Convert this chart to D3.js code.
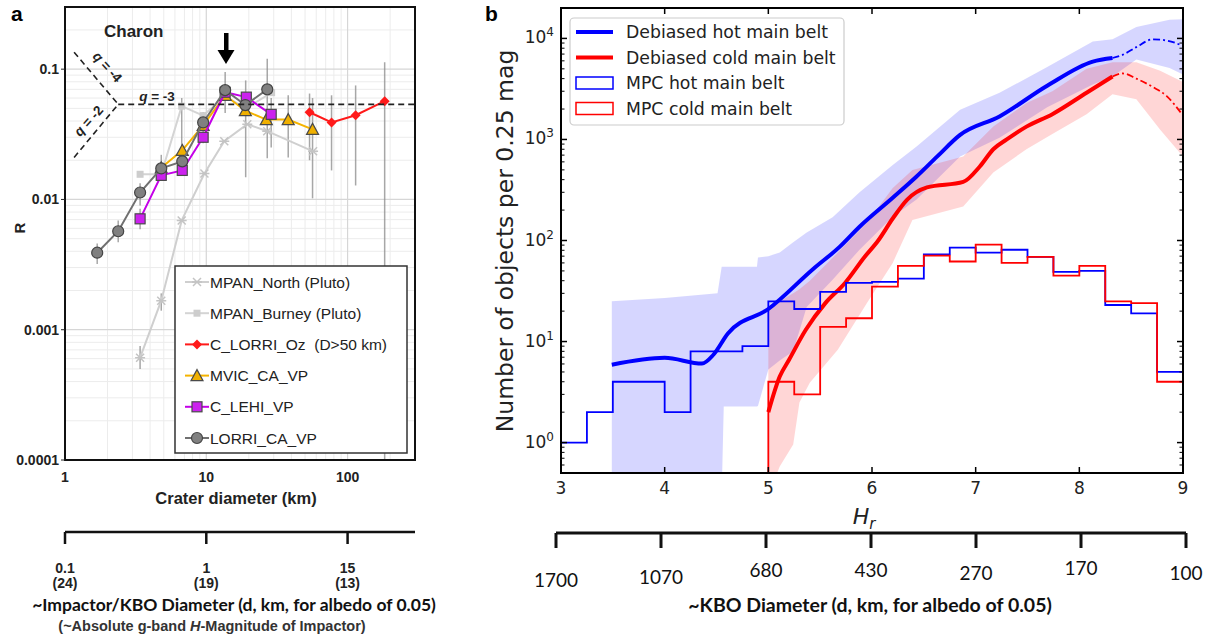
<!DOCTYPE html>
<html>
<head>
<meta charset="utf-8">
<script src="https://cdn.jsdelivr.net/npm/d3@7"></script>
<style>
  body { margin: 0; background: #fff; }
  svg { display: block; }
</style>
</head>
<body>
<div id="chart"></div>
<script>
// ---------- panel a data (Charon R-plot) ----------
var lorriD = [1.69, 2.38, 3.4, 4.8, 6.76, 9.5, 13.6, 18.9, 27];
var lorriR = [0.0039, 0.0057, 0.0113, 0.0173, 0.0196, 0.039, 0.069, 0.053, 0.07];
var lehiD = [3.4, 4.8, 6.76, 9.5, 13.6, 19.2, 28.8];
var lehiR = [0.0071, 0.0153, 0.0167, 0.030, 0.0665, 0.061, 0.045];
var mvicD = [4.8, 6.76, 9.5, 13.6, 18.9, 26.6, 38, 56.5];
var mvicR = [0.0175, 0.0238, 0.037, 0.063, 0.048, 0.041, 0.041, 0.0345];
var ozD = [53.8, 77, 114, 183];
var ozR = [0.0467, 0.039, 0.0443, 0.0568];
var northD = [3.4, 4.8, 6.7, 9.7, 13.4, 19.5, 27, 57];
var northR = [0.00061, 0.00167, 0.0069, 0.0158, 0.028, 0.0378, 0.0334, 0.0234];
var burneyD = [3.4, 4.8, 6.7, 9.5, 13.6, 19, 29];
var burneyR = [0.0156, 0.0156, 0.052, 0.044, 0.062, 0.05, 0.066];

var errD  = [1.69, 2.38, 3.4, 3.4, 3.4, 4.8, 4.8, 6.76, 6.7, 9.5, 13.6, 19, 27, 28.8, 38, 56.5, 53.8, 77, 114, 183];
var errLo = [0.0032, 0.0047, 0.009, 0.0059, 0.0005, 0.0148, 0.0014, 0.0153, 0.016, 0.027, 0.046, 0.0148, 0.0207, 0.025, 0.021, 0.0102, 0.02, 0.0167, 0.0128, 0.0001];
var errHi = [0.0046, 0.0069, 0.0133, 0.0085, 0.00075, 0.022, 0.0019, 0.021, 0.06, 0.047, 0.095, 0.082, 0.12, 0.06, 0.063, 0.06, 0.065, 0.063, 0.075, 0.113];

var aYTicks = [0.0001, 0.001, 0.01, 0.1];
var aYLabels = ["0.0001", "0.001", "0.01", "0.1"];
var aXTicks = [1, 10, 100];
var aXLabels = ["1", "10", "100"];
var impD = ["0.1", "1", "15"];
var impH = ["(24)", "(19)", "(13)"];

// ---------- panel b data (KBO H distribution) ----------
var hotH = [3.49, 4.0, 4.36, 4.47, 4.61, 5.0, 5.43, 5.69, 5.88, 6.2, 6.43, 6.63, 6.85, 7.23, 7.69, 8.13, 8.32];
var hotN = [5.9, 6.9, 6.05, 7.4, 12, 21, 52, 87, 137, 265, 430, 680, 1110, 1690, 3400, 5900, 6400];
var hotExtH = [8.32, 8.42, 8.55, 8.71, 8.85, 8.99];
var hotExtN = [6400, 6900, 8200, 9800, 9500, 8500];
var coldH = [5.0, 5.11, 5.2, 5.36, 5.55, 5.74, 5.93, 6.06, 6.2, 6.34, 6.53, 6.88, 7.04, 7.17, 7.3, 7.49, 7.74, 8.07, 8.32];
var coldN = [2, 4.5, 6.6, 13, 24, 38, 69, 100, 165, 254, 335, 380, 540, 800, 1000, 1340, 1780, 2900, 4200];
var coldExtH = [8.32, 8.42, 8.55, 8.71, 8.84, 8.99];
var coldExtN = [4200, 4500, 4000, 3300, 2700, 1780];

var hotBandH  = [3.49, 4.0, 4.51, 4.55, 4.57, 4.89, 4.9, 5.0, 5.11, 5.24, 5.37, 5.62, 5.88, 6.2, 6.43, 6.85, 7.23, 7.69, 8.13, 8.32, 8.55, 8.87, 9.0];
var hotBandLo = [0.3, 0.3, 0.3, 0.3, 2.27, 2.27, 2.3, 5.3, 6.5, 8, 22, 41, 81, 172, 254, 680, 1040, 2080, 3500, 4200, 6200, 5100, 4400];
var hotBandHi = [25, 27, 30, 55, 55, 55, 68, 70, 76, 96, 120, 170, 300, 560, 850, 1970, 2900, 5200, 9300, 9800, 13000, 15300, 15500];
var coldBandH  = [5.0, 5.11, 5.24, 5.3, 5.4, 5.67, 5.95, 6.2, 6.39, 6.88, 7.17, 7.49, 7.74, 8.07, 8.32, 8.55, 8.78, 9.0];
var coldBandLo = [0.3, 0.58, 0.96, 2.5, 3.9, 8.3, 24, 60, 160, 217, 470, 800, 1130, 1780, 2800, 2500, 1250, 680];
var coldBandHi = [22, 25, 30, 33, 40, 76, 150, 330, 500, 680, 1340, 2300, 3000, 5000, 5800, 5800, 4800, 3700];

var binStart = 3.0, binW = 0.25;
var mpcHot = [1, 2, 4, 4, 2, 8, 8, 9, 25, 21, 31, 38, 39, 42, 73, 85, 76, 81, 69, 49, 50, 23, 19, 5];
var mpcColdStart = 5.0;
var mpcCold = [4, 3, 14, 17, 35, 56, 71, 62, 91, 60, 69, 45, 56, 25, 24, 4];

var bXTicks = [3, 4, 5, 6, 7, 8, 9];
var bYTicks = [1, 10, 100, 1000, 10000];
var kboD = ["1700", "1070", "680", "430", "270", "170", "100"];
var kboDy = [580, 577, 570, 570, 573, 568, 573];

var svg = d3.select("#chart").append("svg").attr("width", 1215).attr("height", 639);

// ================= PANEL A =================
var xA = d3.scaleLog().domain([1, 300]).range([65, 415]);
var yA = d3.scaleLog().domain([0.0001, 0.3]).range([460, 7]);
var gA = svg.append("g");

gA.append("defs").append("clipPath").attr("id", "clipA")
  .append("rect").attr("x", 65).attr("y", 7).attr("width", 350).attr("height", 453);

// grid
var minorX = [], minorY = [];
[1, 10, 100].forEach(d => { for (var k = 2; k <= 9; k++) if (d * k < 300) minorX.push(d * k); });
[0.0001, 0.001, 0.01, 0.1].forEach(d => { for (var k = 2; k <= 9; k++) if (d * k < 0.3) minorY.push(d * k); });
gA.selectAll(".mgx").data(minorX).enter().append("line")
  .attr("x1", d => xA(d)).attr("x2", d => xA(d)).attr("y1", 7).attr("y2", 460)
  .attr("stroke", "#ececec").attr("stroke-width", 1);
gA.selectAll(".mgy").data(minorY).enter().append("line")
  .attr("y1", d => yA(d)).attr("y2", d => yA(d)).attr("x1", 65).attr("x2", 415)
  .attr("stroke", "#ececec").attr("stroke-width", 1);
gA.selectAll(".gx").data(aXTicks).enter().append("line")
  .attr("x1", d => xA(d)).attr("x2", d => xA(d)).attr("y1", 7).attr("y2", 460)
  .attr("stroke", "#d6d6d6").attr("stroke-width", 1.2);
gA.selectAll(".gy").data(aYTicks).enter().append("line")
  .attr("y1", d => yA(d)).attr("y2", d => yA(d)).attr("x1", 65).attr("x2", 415)
  .attr("stroke", "#d6d6d6").attr("stroke-width", 1.2);

var plotA = gA.append("g").attr("clip-path", "url(#clipA)");

// error bars
plotA.selectAll(".err").data(errD).enter().append("line")
  .attr("x1", d => xA(d)).attr("x2", d => xA(d))
  .attr("y1", (d, i) => yA(errLo[i])).attr("y2", (d, i) => yA(errHi[i]))
  .attr("stroke", "#8a8a8a").attr("stroke-opacity", 0.75).attr("stroke-width", 1.5);

var lineA = d3.line().x(d => xA(d[0])).y(d => yA(d[1]));
function zip(a, b) { return a.map((v, i) => [v, b[i]]); }

function marker(g, type, x, y, fill, stroke) {
  if (type === "circle") {
    g.append("circle").attr("cx", x).attr("cy", y).attr("r", 5.5).attr("fill", fill).attr("stroke", stroke).attr("stroke-width", 1.2);
  } else if (type === "square") {
    g.append("rect").attr("x", x - 5).attr("y", y - 5).attr("width", 10).attr("height", 10).attr("fill", fill).attr("stroke", stroke).attr("stroke-width", 1.2);
  } else if (type === "smallsq") {
    g.append("rect").attr("x", x - 3.5).attr("y", y - 3.5).attr("width", 7).attr("height", 7).attr("fill", fill);
  } else if (type === "triangle") {
    g.append("path").attr("d", `M${x},${y - 6}L${x + 6},${y + 5}L${x - 6},${y + 5}Z`).attr("fill", fill).attr("stroke", stroke).attr("stroke-width", 1.2);
  } else if (type === "diamond") {
    g.append("path").attr("d", `M${x},${y - 5}L${x + 5},${y}L${x},${y + 5}L${x - 5},${y}Z`).attr("fill", fill);
  } else if (type === "star") {
    g.append("path").attr("d", `M${x - 4},${y - 4}L${x + 4},${y + 4}M${x - 4},${y + 4}L${x + 4},${y - 4}M${x - 5},${y}L${x + 5},${y}`)
      .attr("stroke", fill).attr("stroke-width", 1.5);
  }
}

var seriesA = [
  { name: "MPAN_North (Pluto)", D: northD, R: northR, line: "#cfcfcf", type: "star", fill: "#c4c4c4", stroke: "none" },
  { name: "MPAN_Burney (Pluto)", D: burneyD, R: burneyR, line: "#d4d4d4", type: "smallsq", fill: "#cdcdcd", stroke: "none" },
  { name: "C_LORRI_Oz\u00a0\u00a0(D>50 km)", D: ozD, R: ozR, line: "#ff1a1a", type: "diamond", fill: "#ff1a1a", stroke: "none" },
  { name: "MVIC_CA_VP", D: mvicD, R: mvicR, line: "#f5b400", type: "triangle", fill: "#f0b000", stroke: "#4a4a4a" },
  { name: "C_LEHI_VP", D: lehiD, R: lehiR, line: "#c400e8", type: "square", fill: "#cc22ee", stroke: "#4a4a4a" },
  { name: "LORRI_CA_VP", D: lorriD, R: lorriR, line: "#707070", type: "circle", fill: "#808080", stroke: "#444" }
];
var drawOrder = [0, 1, 3, 4, 5, 2];
drawOrder.forEach(i => {
  var s = seriesA[i];
  var g = plotA.append("g");
  g.append("path").attr("d", lineA(zip(s.D, s.R))).attr("fill", "none")
    .attr("stroke", s.line).attr("stroke-width", 2);
  s.D.forEach((d, j) => marker(g, s.type, xA(d), yA(s.R[j]), s.fill, s.stroke));
});

// slope guide lines
var qDash = "6,4";
var q3R = 0.0537;
gA.append("line").attr("x1", xA(2.38)).attr("y1", yA(q3R)).attr("x2", 415).attr("y2", yA(q3R))
  .attr("stroke", "#222").attr("stroke-width", 1.6).attr("stroke-dasharray", qDash);
gA.append("line").attr("x1", xA(1.16)).attr("y1", yA(0.135)).attr("x2", xA(2.38)).attr("y2", yA(q3R))
  .attr("stroke", "#222").attr("stroke-width", 1.6).attr("stroke-dasharray", qDash);
gA.append("line").attr("x1", xA(1.16)).attr("y1", yA(0.021)).attr("x2", xA(2.38)).attr("y2", yA(q3R))
  .attr("stroke", "#222").attr("stroke-width", 1.6).attr("stroke-dasharray", qDash);

function qLabel(x, y, rot, val) {
  var t = gA.append("text").attr("transform", `translate(${x},${y}) rotate(${rot})`)
    .attr("text-anchor", "middle").attr("font-family", "Liberation Sans, Arial, sans-serif")
    .attr("font-size", 13.5).attr("font-weight", "bold").attr("fill", "#222");
  t.append("tspan").attr("font-style", "italic").text("q");
  t.append("tspan").text(" = " + val);
}
qLabel(104, 70, 48, "-4");
qLabel(92, 124, -48, "-2");
qLabel(157, 101, 0, "-3");

gA.append("text").attr("x", 104).attr("y", 37).attr("font-family", "Liberation Sans, Arial, sans-serif")
  .attr("font-size", 17).attr("font-weight", "bold").attr("fill", "#222").text("Charon");

// arrow
gA.append("rect").attr("x", 224).attr("y", 33).attr("width", 4.5).attr("height", 19).attr("fill", "#000");
gA.append("path").attr("d", "M217.5,50L234.5,50L226,64Z").attr("fill", "#000");

// legend a
var legA = gA.append("g");
legA.append("rect").attr("x", 175).attr("y", 266).attr("width", 232).attr("height", 187)
  .attr("fill", "#fff").attr("stroke", "#333").attr("stroke-width", 1.5);
seriesA.forEach((s, i) => {
  var y = 282 + i * 31.2;
  legA.append("line").attr("x1", 185).attr("x2", 209).attr("y1", y).attr("y2", y)
    .attr("stroke", s.line).attr("stroke-width", 2);
  marker(legA, s.type, 197, y, s.fill, s.stroke);
  legA.append("text").attr("x", 210).attr("y", y + 5.5).attr("font-family", "Liberation Sans, Arial, sans-serif")
    .attr("font-size", 15.5).attr("fill", "#222").text(s.name);
});

// frame a
gA.append("rect").attr("x", 65).attr("y", 7).attr("width", 350).attr("height", 453)
  .attr("fill", "none").attr("stroke", "#111").attr("stroke-width", 2);

// ticks a
gA.selectAll(".ytl").data(aYTicks).enter().append("text")
  .attr("x", 59).attr("y", d => yA(d) + 5).attr("text-anchor", "end")
  .attr("font-family", "Liberation Sans, Arial, sans-serif").attr("font-size", 14).attr("font-weight", "bold").attr("fill", "#222")
  .text((d, i) => aYLabels[i]);
gA.selectAll(".ytk").data(aYTicks).enter().append("line")
  .attr("x1", 61).attr("x2", 65).attr("y1", d => yA(d)).attr("y2", d => yA(d)).attr("stroke", "#222");
gA.selectAll(".xtl").data(aXTicks).enter().append("text")
  .attr("x", d => xA(d)).attr("y", 482).attr("text-anchor", "middle")
  .attr("font-family", "Liberation Sans, Arial, sans-serif").attr("font-size", 14).attr("font-weight", "bold").attr("fill", "#222")
  .text((d, i) => aXLabels[i]);
gA.append("text").attr("x", 236).attr("y", 504).attr("text-anchor", "middle")
  .attr("font-family", "Liberation Sans, Arial, sans-serif").attr("font-size", 16.5).attr("font-weight", "bold").attr("fill", "#222")
  .text("Crater diameter (km)");
gA.append("text").attr("transform", "translate(25,228) rotate(-90)").attr("text-anchor", "middle")
  .attr("font-family", "Liberation Sans, Arial, sans-serif").attr("font-size", 15).attr("font-weight", "bold").attr("fill", "#222")
  .text("R");

// impactor axis
gA.append("line").attr("x1", 65).attr("x2", 415).attr("y1", 532).attr("y2", 532).attr("stroke", "#111").attr("stroke-width", 2.5);
gA.selectAll(".itk").data(aXTicks).enter().append("line")
  .attr("x1", d => xA(d)).attr("x2", d => xA(d)).attr("y1", 532).attr("y2", 544)
  .attr("stroke", "#111").attr("stroke-width", 2.5);
gA.selectAll(".itl").data(aXTicks).enter().append("text")
  .attr("x", d => xA(d)).attr("y", 573).attr("text-anchor", "middle")
  .attr("font-family", "Liberation Sans, Arial, sans-serif").attr("font-size", 14).attr("font-weight", "bold").attr("fill", "#222")
  .text((d, i) => impD[i]);
gA.selectAll(".ith").data(aXTicks).enter().append("text")
  .attr("x", d => xA(d)).attr("y", 588).attr("text-anchor", "middle")
  .attr("font-family", "Liberation Sans, Arial, sans-serif").attr("font-size", 14).attr("font-weight", "bold").attr("fill", "#222")
  .text((d, i) => impH[i]);
gA.append("text").attr("x", 234).attr("y", 611).attr("text-anchor", "middle")
  .attr("font-family", "Lato, sans-serif").attr("font-size", 17.5).attr("font-weight", "bold").attr("fill", "#111")
  .text("~Impactor/KBO Diameter (d, km, for albedo of 0.05)");
var sub = gA.append("text").attr("x", 212).attr("y", 631).attr("text-anchor", "middle")
  .attr("font-family", "Liberation Sans, Arial, sans-serif").attr("font-size", 14.5).attr("font-weight", "bold").attr("fill", "#333");
sub.append("tspan").text("(~Absolute g-band ");
sub.append("tspan").attr("font-style", "italic").text("H");
sub.append("tspan").text("-Magnitude of Impactor)");

svg.append("text").attr("x", 11).attr("y", 21).attr("font-family", "Liberation Sans, Arial, sans-serif")
  .attr("font-size", 21).attr("font-weight", "bold").text("a");

// ================= PANEL B =================
var xB = d3.scaleLinear().domain([3, 9]).range([561, 1183]);
var yB = d3.scaleLog().domain([0.5, 20000]).range([473, 8]);
var gB = svg.append("g");
gB.append("defs").append("clipPath").attr("id", "clipB")
  .append("rect").attr("x", 561).attr("y", 8).attr("width", 622).attr("height", 465);
var plotB = gB.append("g").attr("clip-path", "url(#clipB)");

var area = d3.area().x(d => xB(d[0])).y0(d => yB(d[1])).y1(d => yB(d[2]));
plotB.append("path").attr("d", area(hotBandH.map((h, i) => [h, hotBandLo[i], hotBandHi[i]])))
  .attr("fill", "#0000ff").attr("fill-opacity", 0.16);
plotB.append("path").attr("d", area(coldBandH.map((h, i) => [h, coldBandLo[i], coldBandHi[i]])))
  .attr("fill", "#ff0000").attr("fill-opacity", 0.16);

var lineB = d3.line().curve(d3.curveMonotoneX).x(d => xB(d[0])).y(d => yB(d[1]));
plotB.append("path").attr("d", lineB(zip(hotH, hotN))).attr("fill", "none").attr("stroke", "#0000ff").attr("stroke-width", 4);
plotB.append("path").attr("d", lineB(zip(coldH, coldN))).attr("fill", "none").attr("stroke", "#ff0000").attr("stroke-width", 4);
plotB.append("path").attr("d", lineB(zip(hotExtH, hotExtN))).attr("fill", "none").attr("stroke", "#0000ff")
  .attr("stroke-width", 1.8).attr("stroke-dasharray", "7,3,2,3");
plotB.append("path").attr("d", lineB(zip(coldExtH, coldExtN))).attr("fill", "none").attr("stroke", "#ff0000")
  .attr("stroke-width", 1.8).attr("stroke-dasharray", "7,3,2,3");

// histograms
function histPts(start, vals, fromBottom) {
  var pts = [];
  if (fromBottom) pts.push([start, 0.3]);
  vals.forEach((v, i) => {
    pts.push([start + i * binW, v]);
    pts.push([start + (i + 1) * binW, v]);
  });
  return pts;
}
var lineH = d3.line().x(d => xB(d[0])).y(d => yB(d[1]));
plotB.append("path").attr("d", lineH(histPts(binStart, mpcHot, false))).attr("fill", "none")
  .attr("stroke", "#0000ff").attr("stroke-width", 1.8);
plotB.append("path").attr("d", lineH(histPts(mpcColdStart, mpcCold, true))).attr("fill", "none")
  .attr("stroke", "#ff0000").attr("stroke-width", 1.8);

// frame & ticks b
gB.append("rect").attr("x", 561).attr("y", 8).attr("width", 622).attr("height", 465)
  .attr("fill", "none").attr("stroke", "#000").attr("stroke-width", 2);
bXTicks.forEach(t => {
  gB.append("line").attr("x1", xB(t)).attr("x2", xB(t)).attr("y1", 473).attr("y2", 467).attr("stroke", "#000").attr("stroke-width", 1.5);
  gB.append("line").attr("x1", xB(t)).attr("x2", xB(t)).attr("y1", 8).attr("y2", 14).attr("stroke", "#000").attr("stroke-width", 1.5);
  gB.append("text").attr("x", xB(t)).attr("y", 494).attr("text-anchor", "middle")
    .attr("font-family", "DejaVu Sans, sans-serif").attr("font-size", 17).attr("fill", "#222").text(t);
});
var minorB = [];
[0.1, 1, 10, 100, 1000, 10000].forEach(d => { for (var k = 2; k <= 9; k++) { var v = d * k; if (v > 0.5 && v < 20000) minorB.push(v); } });
minorB.forEach(v => {
  [[561, 564.5], [1183, 1179.5]].forEach(p => gB.append("line").attr("x1", p[0]).attr("x2", p[1])
    .attr("y1", yB(v)).attr("y2", yB(v)).attr("stroke", "#000").attr("stroke-width", 1));
});
bYTicks.forEach((t, i) => {
  [[561, 567], [1183, 1177]].forEach(p => gB.append("line").attr("x1", p[0]).attr("x2", p[1])
    .attr("y1", yB(t)).attr("y2", yB(t)).attr("stroke", "#000").attr("stroke-width", 1.5));
  var tx = gB.append("text").attr("x", 554).attr("y", yB(t) + 5).attr("text-anchor", "end")
    .attr("font-family", "DejaVu Sans, sans-serif").attr("font-size", 17).attr("fill", "#222");
  tx.append("tspan").text("10");
  tx.append("tspan").attr("dy", -7).attr("font-size", 12).text(i);
});
gB.append("text").attr("transform", "translate(513,241) rotate(-90)").attr("text-anchor", "middle")
  .attr("font-family", "DejaVu Sans, sans-serif").attr("font-size", 23.5).attr("fill", "#222")
  .text("Number of objects per 0.25 mag");
var hr = gB.append("text").attr("x", 864).attr("y", 524).attr("text-anchor", "middle")
  .attr("font-family", "DejaVu Sans, sans-serif").attr("font-size", 22).attr("font-style", "italic").attr("fill", "#222");
hr.append("tspan").text("H");
hr.append("tspan").attr("dy", 5).attr("font-size", 15).text("r");

// legend b
var legB = gB.append("g");
legB.append("rect").attr("x", 570).attr("y", 18).attr("width", 274).attr("height", 107).attr("rx", 4)
  .attr("fill", "#fff").attr("fill-opacity", 0.85).attr("stroke", "#cccccc").attr("stroke-width", 1.2);
var legItems = [
  { label: "Debiased hot main belt", color: "#0000ff", kind: "line" },
  { label: "Debiased cold main belt", color: "#ff0000", kind: "line" },
  { label: "MPC hot main belt", color: "#0000ff", kind: "box" },
  { label: "MPC cold main belt", color: "#ff0000", kind: "box" }
];
legItems.forEach((it, i) => {
  var y = 32 + i * 25.5;
  if (it.kind === "line") {
    legB.append("line").attr("x1", 576).attr("x2", 613).attr("y1", y).attr("y2", y).attr("stroke", it.color).attr("stroke-width", 4);
  } else {
    legB.append("rect").attr("x", 576).attr("y", y - 6).attr("width", 37).attr("height", 12)
      .attr("fill", "none").attr("stroke", it.color).attr("stroke-width", 1.5);
  }
  legB.append("text").attr("x", 626).attr("y", y + 6).attr("font-family", "DejaVu Sans, sans-serif")
    .attr("font-size", 17.3).attr("fill", "#222").text(it.label);
});

// KBO diameter axis
var xD = d3.scalePoint().domain(kboD).range([556, 1186]);
gB.append("line").attr("x1", 556).attr("x2", 1186).attr("y1", 533).attr("y2", 533).attr("stroke", "#111").attr("stroke-width", 3);
kboD.forEach((d, i) => {
  gB.append("line").attr("x1", xD(d)).attr("x2", xD(d)).attr("y1", 533).attr("y2", 548).attr("stroke", "#111").attr("stroke-width", 3);
  gB.append("text").attr("x", xD(d)).attr("y", kboDy[i] + 7).attr("text-anchor", "middle")
    .attr("font-family", "Lato, sans-serif").attr("font-size", 19).attr("fill", "#111").text(d);
});
gB.append("text").attr("x", 870).attr("y", 612).attr("text-anchor", "middle")
  .attr("font-family", "Lato, sans-serif").attr("font-size", 19.5).attr("font-weight", "bold").attr("fill", "#111")
  .text("~KBO Diameter (d, km, for albedo of 0.05)");

svg.append("text").attr("x", 485).attr("y", 21).attr("font-family", "Liberation Sans, Arial, sans-serif")
  .attr("font-size", 21).attr("font-weight", "bold").text("b");
</script>
</body>
</html>
